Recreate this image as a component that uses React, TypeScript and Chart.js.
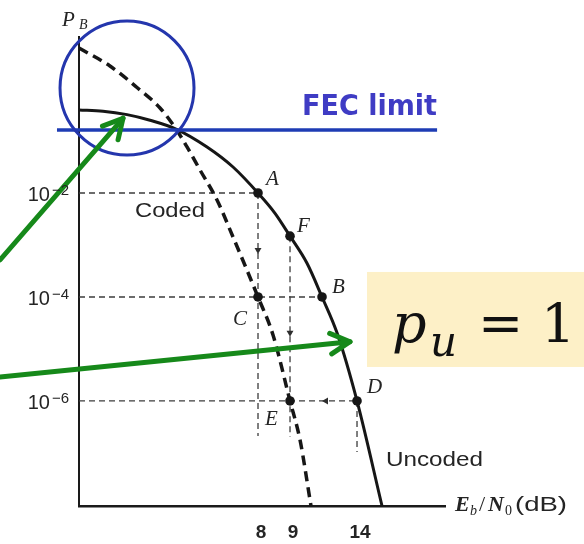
import { useEffect, useRef } from "react";
import { Chart, registerables } from "chart.js";

Chart.register(...registerables);

// Axis extents: x in schematic Eb/N0 positions, y in log10(P_B)
const xRange = [0, 11.09];
const yRange = [-8.02, 1.0];

// Tick labels
const yTickExponents = [-2, -4, -6];
const xTickPositions = [5.424, 6.394, 8.424];
const xTickLabels = ["8", "9", "14"];

// Uncoded bit-error-probability curve
const uncodedX = [0, 0.727, 1.455, 2.152, 2.94, 3.879, 4.667, 5.424, 5.94, 6.394, 6.909, 7.364, 7.818, 8.424, 9.182];
const uncodedY = [-0.404, -0.427, -0.493, -0.6, -0.77, -1.115, -1.5, -2, -2.39, -2.83, -3.352, -4, -4.69, -6, -8.02];

// Coded bit-error-probability curve
const codedX = [0, 0.939, 1.758, 2.455, 2.94, 3.273, 3.667, 4.182, 4.667, 5.424, 5.879, 6.394, 6.697, 7.03];
const codedY = [0.788, 0.442, 0.029, -0.365, -0.77, -1.115, -1.558, -2.135, -2.846, -4, -4.731, -6, -6.75, -8.02];

// Operating points
const pointNames = ["A", "F", "B", "C", "E", "D"];
const pointX = [5.424, 6.394, 7.364, 5.424, 6.394, 8.424];
const pointY = [-2, -2.83, -4, -4, -6, -6];

// Dashed guide segments
const guideStartX = [0, 0, 0, 5.424, 6.394, 8.424];
const guideStartY = [-2, -4, -6, -2, -2.83, -6];
const guideEndX = [5.424, 7.364, 8.424, 5.424, 6.394, 8.424];
const guideEndY = [-2, -4, -6, -6.673, -6.69, -6.98];

// Direction markers along the guides
const markerX = [5.424, 6.394, 7.485];
const markerY = [-3.096, -4.69, -6];
const markerRotation = [180, 180, 270];

// FEC threshold
const fecLevel = -0.788;
const fecSpan = [-0.667, 10.85];

// Highlight ring around the high-error region
const ringCenter = [1.455, 0.019];
const ringRadius = 2.03;

// Green pointers
const pointerStartX = [-2.394, -2.394];
const pointerStartY = [-3.288, -5.538];
const pointerEndX = [1.333, 8.212];
const pointerEndY = [-0.563, -4.86];

// Curve captions
const captionText = ["Coded", "Uncoded", "FEC limit"];
const captionX = [1.697, 9.303, 6.758];
const captionY = [-2.462, -7.25, -0.5];

// Note box
const noteBoxX = 8.727;
const noteBoxY = [-3.519, -5.346];

// Label offsets (px) for the operating points
const labelDx = [8, 7, 10, -25, -25, 10];
const labelDy = [-8, -4, -4, 28, 24, -8];

const INK = "#161616";
const TEXT = "#242424";

function drawText(
  ctx: CanvasRenderingContext2D,
  s: string,
  x: number,
  y: number,
  font: string,
  color: string,
  width?: number
) {
  ctx.save();
  ctx.font = font;
  ctx.fillStyle = color;
  ctx.textAlign = "left";
  ctx.textBaseline = "alphabetic";
  const w = ctx.measureText(s).width;
  if (width) {
    ctx.translate(x, y);
    ctx.scale(width / w, 1);
    ctx.fillText(s, 0, 0);
  } else {
    ctx.fillText(s, x, y);
  }
  ctx.restore();
  return width ?? w;
}

const overlayPlugin = {
  id: "overlay",
  afterDatasetsDraw(chart: any) {
    const { ctx, scales } = chart;
    const xs = scales.x;
    const ys = scales.y;

    // ring
    const cx = xs.getPixelForValue(ringCenter[0]);
    const cy = ys.getPixelForValue(ringCenter[1]);
    const r = xs.getPixelForValue(ringCenter[0] + ringRadius) - cx;
    ctx.save();
    ctx.strokeStyle = "#2436ad";
    ctx.lineWidth = 3;
    ctx.beginPath();
    ctx.arc(cx, cy, r, 0, Math.PI * 2);
    ctx.stroke();
    ctx.restore();
  },
  afterDraw(chart: any) {
    const { ctx, scales, chartArea } = chart;
    const xs = scales.x;
    const ys = scales.y;
    const px = (v: number) => xs.getPixelForValue(v);
    const py = (v: number) => ys.getPixelForValue(v);

    // note box
    const bx = px(noteBoxX);
    const by0 = py(noteBoxY[0]);
    const by1 = py(noteBoxY[1]);
    ctx.save();
    ctx.fillStyle = "#fdf0c7";
    ctx.fillRect(bx, by0, chart.width - bx, by1 - by0);
    ctx.restore();
    drawText(ctx, "p", bx + 25, by0 + 70, 'italic 54px "DejaVu Serif"', "#111");
    drawText(ctx, "u", bx + 63, by0 + 84, 'italic 42px "DejaVu Serif"', "#111");
    drawText(ctx, "=", bx + 111, by0 + 70, '54px "DejaVu Serif"', "#111");
    drawText(ctx, "1", bx + 174, by0 + 71, '54px "DejaVu Serif"', "#111");

    // green pointers
    ctx.save();
    ctx.strokeStyle = "#16891a";
    ctx.lineWidth = 5;
    ctx.lineCap = "round";
    ctx.lineJoin = "round";
    for (let i = 0; i < pointerStartX.length; i++) {
      const x0 = px(pointerStartX[i]);
      const y0 = py(pointerStartY[i]);
      const x1 = px(pointerEndX[i]);
      const y1 = py(pointerEndY[i]);
      const ang = Math.atan2(y1 - y0, x1 - x0);
      ctx.beginPath();
      ctx.moveTo(x0, y0);
      ctx.lineTo(x1, y1);
      ctx.stroke();
      const arm = 22;
      const spread = (28 * Math.PI) / 180;
      ctx.beginPath();
      ctx.moveTo(x1 - arm * Math.cos(ang - spread), y1 - arm * Math.sin(ang - spread));
      ctx.lineTo(x1, y1);
      ctx.lineTo(x1 - arm * Math.cos(ang + spread), y1 - arm * Math.sin(ang + spread));
      ctx.stroke();
    }
    ctx.restore();

    // y tick labels: 10^exponent
    for (const ex of yTickExponents) {
      const yy = py(ex);
      ctx.save();
      ctx.font = '20px "Liberation Sans"';
      const wb = ctx.measureText("10").width;
      ctx.font = '15px "Liberation Sans"';
      const sup = "\u2212" + Math.abs(ex);
      const ws = ctx.measureText(sup).width;
      ctx.restore();
      const right = chartArea.left - 10;
      const left = right - ws - 2 - wb;
      drawText(ctx, "10", left, yy + 8, '20px "Liberation Sans"', TEXT);
      drawText(ctx, sup, left + wb + 2, yy + 2, '15px "Liberation Sans"', TEXT);
    }

    // x tick labels
    ctx.save();
    ctx.font = 'bold 19px "Liberation Sans"';
    ctx.fillStyle = TEXT;
    ctx.textAlign = "center";
    xTickPositions.forEach((v, i) => {
      ctx.fillText(xTickLabels[i], px(v) + 3, chartArea.bottom + 32);
    });
    ctx.restore();

    // axis titles
    drawText(ctx, "P", chartArea.left - 17, chartArea.top - 11, 'italic 21px "Liberation Serif"', TEXT);
    drawText(ctx, "B", chartArea.left, chartArea.top - 8, 'italic 14px "Liberation Serif"', TEXT);
    const tx = chartArea.right + 10;
    const tb = chartArea.bottom + 5;
    drawText(ctx, "E", tx, tb, 'italic bold 22px "Liberation Serif"', TEXT);
    drawText(ctx, "b", tx + 15, tb + 4, 'italic 14px "Liberation Serif"', TEXT);
    drawText(ctx, "/", tx + 24, tb, '22px "Liberation Serif"', TEXT);
    drawText(ctx, "N", tx + 33, tb, 'italic bold 22px "Liberation Serif"', TEXT);
    drawText(ctx, "0", tx + 50, tb + 4, '14px "Liberation Serif"', TEXT);
    drawText(ctx, "(dB)", tx + 60, tb, '21px "Liberation Sans"', TEXT, 52);

    // curve captions
    drawText(ctx, captionText[0], px(captionX[0]), py(captionY[0]), '21px "Liberation Sans"', TEXT, 70);
    drawText(ctx, captionText[1], px(captionX[1]), py(captionY[1]), '21px "Liberation Sans"', TEXT, 97);
    drawText(ctx, captionText[2], px(captionX[2]), py(captionY[2]), 'bold 29px "DejaVu Sans"', "#3f3cc4", 135);

    // operating point letters
    pointNames.forEach((name, i) => {
      drawText(
        ctx,
        name,
        px(pointX[i]) + labelDx[i],
        py(pointY[i]) + labelDy[i],
        'italic 21px "Liberation Serif"',
        TEXT
      );
    });
  },
};

export default function App() {
  const canvasRef = useRef<HTMLCanvasElement>(null);

  useEffect(() => {
    document.body.style.margin = "0";
    const canvas = canvasRef.current!;
    const zip = (xs: number[], ys: number[]) => xs.map((v, i) => ({ x: v, y: ys[i] }));

    const guides = guideStartX.map((_, i) => ({
      data: [
        { x: guideStartX[i], y: guideStartY[i] },
        { x: guideEndX[i], y: guideEndY[i] },
      ],
      showLine: true,
      borderColor: "#3c3c3c",
      borderWidth: 1.3,
      borderDash: [6, 4],
      pointRadius: 0,
    }));

    const datasets: any[] = [
      {
        data: zip(pointX, pointY),
        showLine: false,
        pointRadius: 4.8,
        pointBackgroundColor: INK,
        pointBorderColor: INK,
        pointBorderWidth: 0,
      },
      {
        data: zip(markerX, markerY),
        showLine: false,
        pointStyle: "triangle",
        pointRotation: markerRotation,
        pointRadius: 4,
        pointBackgroundColor: "#2e2e2e",
        pointBorderColor: "#2e2e2e",
        pointBorderWidth: 0,
      },
      {
        data: [
          { x: fecSpan[0], y: fecLevel },
          { x: fecSpan[1], y: fecLevel },
        ],
        showLine: true,
        borderColor: "#1e3cb4",
        borderWidth: 3.5,
        pointRadius: 0,
        clip: false,
      },
      {
        data: zip(uncodedX, uncodedY),
        showLine: true,
        borderColor: INK,
        borderWidth: 3,
        pointRadius: 0,
        cubicInterpolationMode: "monotone",
      },
      {
        data: zip(codedX, codedY),
        showLine: true,
        borderColor: INK,
        borderWidth: 3.5,
        borderDash: [10, 6],
        pointRadius: 0,
        cubicInterpolationMode: "monotone",
      },
      ...guides,
    ];

    const chart = new Chart(canvas, {
      type: "scatter",
      data: { datasets },
      options: {
        responsive: false,
        animation: false,
        events: [],
        layout: { padding: { left: 79, right: 139, top: 37, bottom: 38 } },
        plugins: { legend: { display: false }, tooltip: { enabled: false } },
        scales: {
          x: {
            type: "linear",
            min: xRange[0],
            max: xRange[1],
            grid: { display: false, drawTicks: false },
            ticks: { display: false },
            border: { display: true, color: "#1a1a1a", width: 2.5 },
          },
          y: {
            type: "linear",
            min: yRange[0],
            max: yRange[1],
            grid: { display: false, drawTicks: false },
            ticks: { display: false },
            border: { display: true, color: "#1a1a1a", width: 2 },
          },
        },
      },
      plugins: [overlayPlugin],
    });
    return () => chart.destroy();
  }, []);

  return (
    <div style={{ width: 584, height: 544, background: "#fff" }}>
      <canvas ref={canvasRef} width={584} height={544} style={{ display: "block" }} />
    </div>
  );
}
